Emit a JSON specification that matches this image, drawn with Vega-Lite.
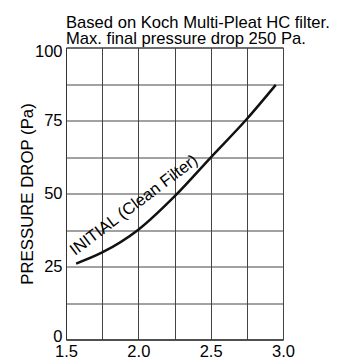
{
  "$schema": "https://vega.github.io/schema/vega-lite/v6.json",
  "autosize": "none",
  "width": 217,
  "height": 292,
  "padding": {"left": 66, "top": 47.5, "right": 57, "bottom": 18.5},
  "background": "white",
  "config": {
    "font": "Liberation Sans",
    "view": {"stroke": "#333", "strokeWidth": 1}
  },
  "title": {
    "text": ["Based on Koch Multi-Pleat HC filter.", "Max. final pressure drop 250 Pa."],
    "anchor": "start",
    "frame": "group",
    "font": "Liberation Sans",
    "fontSize": 16.6,
    "fontWeight": "normal",
    "color": "#000",
    "lineHeight": 16,
    "offset": 4,
    "dy": 9
  },
  "datasets": {
    "curve": [
      {"flow": 1.57, "dp": 26},
      {"flow": 1.75, "dp": 29.8},
      {"flow": 2.0, "dp": 37.6},
      {"flow": 2.25, "dp": 49},
      {"flow": 2.5, "dp": 62.3},
      {"flow": 2.75, "dp": 75.5},
      {"flow": 2.95, "dp": 87.2}
    ],
    "label": [
      {"flow": 1.97, "dp": 46, "text": "INITIAL (Clean Filter)"}
    ]
  },
  "layer": [
    {
      "data": {"name": "curve"},
      "mark": {"type": "line", "color": "#111", "strokeWidth": 2.5, "interpolate": "monotone"},
      "encoding": {
        "x": {
          "field": "flow", "type": "quantitative",
          "scale": {"domain": [1.5, 3.0], "nice": false, "zero": false},
          "axis": {
            "values": [1.5, 1.75, 2.0, 2.25, 2.5, 2.75, 3.0],
            "tickCount": 50,
            "format": ".1f",
            "labelOpacity": {"condition": {"test": "(datum.value * 2) % 1 != 0", "value": 0}, "value": 1},
            "labelOverlap": false,
            "title": null,
            "grid": true, "gridColor": "#444", "gridWidth": 1, "gridOpacity": 1,
            "domainColor": "#333", "ticks": false,
            "labelFont": "Liberation Sans", "labelFontSize": 16.5, "labelColor": "#000",
            "labelPadding": 4, "labelFlush": false
          }
        },
        "y": {
          "field": "dp", "type": "quantitative",
          "scale": {"domain": [0, 100], "nice": false},
          "axis": {
            "values": [0, 12.5, 25, 37.5, 50, 62.5, 75, 87.5, 100],
            "tickCount": 50,
            "format": "d",
            "labelOpacity": {"condition": {"test": "datum.value % 25 != 0", "value": 0}, "value": 1},
            "labelOffset": {"condition": [{"test": "datum.value == 0", "value": -3.5}, {"test": "datum.value == 100", "value": 3.5}], "value": 0},
            "labelOverlap": false,
            "title": "PRESSURE DROP (Pa)",
            "titleFont": "Liberation Sans", "titleFontSize": 16.8, "titleFontWeight": "normal",
            "titleColor": "#000", "titlePadding": -2,
            "grid": true, "gridColor": "#444", "gridWidth": 1, "gridOpacity": 1,
            "domainColor": "#333", "ticks": false,
            "labelFont": "Liberation Sans", "labelFontSize": 16.5, "labelColor": "#000",
            "labelPadding": 4, "labelFlush": false
          }
        }
      }
    },
    {
      "data": {"name": "label"},
      "mark": {"type": "text", "angle": -37, "fontSize": 16.5, "font": "Liberation Sans", "color": "#000", "align": "center", "baseline": "middle"},
      "encoding": {
        "x": {"field": "flow", "type": "quantitative"},
        "y": {"field": "dp", "type": "quantitative"},
        "text": {"field": "text"}
      }
    }
  ]
}
